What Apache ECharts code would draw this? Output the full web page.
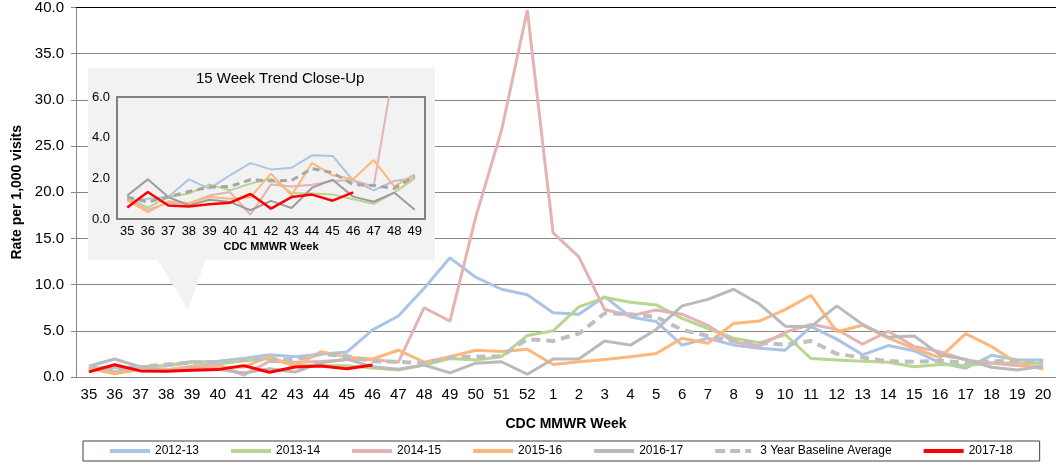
<!DOCTYPE html>
<html>
<head>
<meta charset="utf-8">
<script src="https://cdn.jsdelivr.net/npm/echarts@6/dist/echarts.min.js"></script>
<style>
  html, body { margin: 0; padding: 0; background: #fff; }
  #chart { width: 1056px; height: 465px; }
</style>
</head>
<body>
<div id="chart"></div>
<script>
// weeks 35..52 then 1..20
const weeks = ['35','36','37','38','39','40','41','42','43','44','45','46','47','48','49','50','51','52',
  '1','2','3','4','5','6','7','8','9','10','11','12','13','14','15','16','17','18','19','20'];
const insetWeeks = weeks.slice(0, 15);

const s2012_13 = [1.0, 1.0, 1.1, 1.2, 1.6, 1.7, 2.0, 2.4, 2.2, 2.45, 2.7, 5.1, 6.6, 9.6, 12.9, 10.8, 9.5, 8.9,
  6.95, 6.8, 8.7, 6.5, 6.0, 3.45, 4.2, 3.45, 3.1, 2.9, 5.45, 4.1, 2.4, 3.4, 2.85, 1.55, 0.95, 2.35, 1.85, 1.85];
const s2013_14 = [1.08, 0.56, 1.08, 1.25, 1.69, 1.41, 1.74, 1.98, 1.28, 1.25, 1.21, 0.97, 0.75, 1.3, 2.0, 1.85, 2.2, 4.5,
  5.0, 7.6, 8.6, 8.1, 7.8, 6.35, 5.25, 4.2, 3.7, 4.6, 2.0, 1.85, 1.7, 1.6, 1.1, 1.35, 1.25, 1.55, 1.5, 1.5];
const s2014_15 = [1.0, 0.45, 0.8, 0.75, 1.16, 1.33, 0.21, 1.7, 1.6, 1.69, 1.87, 1.9, 1.6, 7.5, 6.05, 17.3, 26.7, 39.7,
  15.6, 13.0, 7.3, 6.6, 7.25, 6.8, 5.6, 3.8, 3.35, 4.85, 5.7, 5.15, 3.55, 4.95, 3.3, 2.75, 1.85, 1.5, 1.25, 1.05];
const s2015_16 = [0.92, 0.34, 0.87, 0.79, 1.08, 1.0, 1.08, 2.23, 1.16, 2.75, 2.15, 1.95, 2.9, 1.6, 2.2, 2.9, 2.75, 3.0,
  1.35, 1.65, 1.9, 2.2, 2.55, 4.2, 3.65, 5.8, 6.05, 7.3, 8.85, 4.9, 5.6, 4.2, 3.1, 2.1, 4.7, 3.3, 1.5, 0.85];
const s2016_17 = [1.16, 1.95, 1.08, 0.67, 0.95, 0.84, 0.43, 0.89, 0.54, 1.54, 1.93, 1.1, 0.85, 1.3, 0.45, 1.5, 1.65, 0.3,
  1.95, 1.95, 3.9, 3.45, 5.15, 7.7, 8.4, 9.5, 7.9, 5.5, 5.45, 7.7, 5.7, 4.3, 4.45, 2.4, 1.9, 1.05, 0.75, 1.2];
const baseline3yr = [1.08, 0.84, 1.08, 1.35, 1.57, 1.6, 1.93, 1.87, 1.9, 2.48, 2.28, 1.7, 1.65, 1.5, 2.1, 2.2, 2.25, 4.1,
  3.9, 4.7, 6.9, 6.8, 6.5, 5.1, 4.45, 3.9, 3.7, 3.5, 3.9, 2.5, 2.1, 1.7, 1.65, 1.75, 1.55, 1.7, 1.75, 1.6];
const s2017_18 = [0.56, 1.33, 0.66, 0.61, 0.72, 0.8, 1.23, 0.51, 1.08, 1.2, 0.9, 1.31];

// the close-up shows its own 2012-13 line
const inset2012_13 = [0.89, 1.0, 1.08, 1.95, 1.49, 2.15, 2.75, 2.44, 2.52, 3.13, 3.1, 1.9, 1.41, 1.87, 2.02];

const font = 'Liberation Sans, Arial, sans-serif';
const names = ['2012-13', '2013-14', '2014-15', '2015-16', '2016-17', '3 Year Baseline Average', '2017-18'];
const colors = ['#aac4e6', '#b8d68d', '#e5b3b3', '#fdb77a', '#bababa', '#bfbfbf', '#ff0000'];
const insetColors = ['#aac4e6', '#b8d68d', '#e5b3b3', '#fdb77a', '#9c9c9c', '#a6a6a6', '#ff0000'];
const mainData = [s2012_13, s2013_14, s2014_15, s2015_16, s2016_17, baseline3yr, s2017_18];
const insetData = [inset2012_13, s2013_14.slice(0, 15), s2014_15.slice(0, 15), s2015_16.slice(0, 15),
  s2016_17.slice(0, 15), baseline3yr.slice(0, 15), s2017_18];

const fmt = (v) => v.toFixed(1);

// legend icons: plain line, dashed line for the baseline
const solidIcon = 'path://M0,0H40V4H0Z';
const dashIcon = 'path://M0,0H10V4H0Z M15,0H25V4H15Z M30,0H36V4H30Z M40,0H40V4H40Z';

let series = [];
names.forEach((name, i) => {
  const dashed = name.startsWith('3 Year');
  const isRed = name === '2017-18';
  series.push({
    name: name,
    type: 'line',
    data: mainData[i],
    xAxisIndex: 0,
    yAxisIndex: 0,
    symbol: 'none',
    silent: true,
    z: isRed ? 3 : 2,
    lineStyle: { color: colors[i], width: dashed ? 4 : 3, type: dashed ? [9, 6] : 'solid' },
    itemStyle: { color: colors[i] }
  });
});
names.forEach((name, i) => {
  const dashed = name.startsWith('3 Year');
  const isRed = name === '2017-18';
  series.push({
    name: name,
    type: 'line',
    data: insetData[i],
    xAxisIndex: 1,
    yAxisIndex: 1,
    symbol: 'none',
    silent: true,
    z: isRed ? 9 : 8,
    lineStyle: { color: insetColors[i], width: dashed ? 3 : (isRed ? 2.5 : 2), type: dashed ? [7, 5] : 'solid' },
    itemStyle: { color: insetColors[i] }
  });
});

const chart = echarts.init(document.getElementById('chart'));
chart.setOption({
  animation: false,
  textStyle: { fontFamily: font },
  title: {
    text: '15 Week Trend Close-Up',
    left: 196,
    top: 71,
    padding: 0,
    z: 7,
    textStyle: { fontSize: 15, fontWeight: 'normal', color: '#000', fontFamily: font }
  },
  legend: {
    data: names.map((n) => ({ name: n, icon: n.startsWith('3 Year') ? dashIcon : solidIcon })),
    left: 83,
    top: 441,
    padding: [4, 27],
    itemWidth: 40,
    itemHeight: 14,
    itemGap: 32,
    borderColor: '#404040',
    borderWidth: 1,
    textStyle: { fontSize: 12, color: '#000', fontFamily: font }
  },
  graphic: [
    { type: 'rect', z: 5, silent: true, shape: { x: 88, y: 68, width: 347, height: 192 }, style: { fill: '#f2f2f2' } },
    { type: 'polygon', z: 5, silent: true, shape: { points: [[157, 259], [206, 259], [188, 310]] }, style: { fill: '#f2f2f2' } }
  ],
  grid: [
    { left: 76, top: 7, width: 984, height: 370 },
    { left: 117, top: 97, width: 308, height: 122, show: true, z: 6,
      backgroundColor: '#f2f2f2', borderColor: '#808080', borderWidth: 2 }
  ],
  xAxis: [
    {
      gridIndex: 0, type: 'category', data: weeks, boundaryGap: true,
      axisLine: { lineStyle: { color: '#868686' } },
      axisTick: { length: 5, lineStyle: { color: '#868686' } },
      axisLabel: { fontSize: 15, color: '#000', margin: 10, interval: 0 },
      name: 'CDC MMWR Week', nameLocation: 'middle', nameGap: 40,
      nameTextStyle: { fontSize: 14, fontWeight: 'bold', color: '#000' }
    },
    {
      gridIndex: 1, type: 'category', data: insetWeeks, boundaryGap: true, z: 7,
      axisLine: { lineStyle: { color: '#808080', width: 2 } },
      axisTick: { length: 3, lineStyle: { color: '#808080' } },
      axisLabel: { fontSize: 13, color: '#000', margin: 6, interval: 0 },
      name: 'CDC MMWR Week', nameLocation: 'middle', nameGap: 22,
      nameTextStyle: { fontSize: 11, fontWeight: 'bold', color: '#000' }
    },
    {
      // top border line of the main plot
      gridIndex: 0, type: 'category', data: weeks, position: 'top',
      axisLine: { lineStyle: { color: '#000' } },
      axisTick: { show: false }, axisLabel: { show: false }
    }
  ],
  yAxis: [
    {
      gridIndex: 0, type: 'value', min: 0, max: 40, interval: 5,
      axisLine: { show: true, lineStyle: { color: '#868686' } },
      axisTick: { show: true, length: 5, lineStyle: { color: '#868686' } },
      splitLine: { lineStyle: { color: '#868686' } },
      axisLabel: { fontSize: 15, color: '#000', margin: 12, formatter: fmt },
      name: 'Rate per 1,000 visits', nameLocation: 'middle', nameGap: 50,
      nameTextStyle: { fontSize: 14, fontWeight: 'bold', color: '#000' }
    },
    {
      gridIndex: 1, type: 'value', min: 0, max: 6, interval: 2, z: 7,
      axisLine: { show: true, lineStyle: { color: '#808080', width: 2 } },
      axisTick: { show: false },
      splitLine: { show: false },
      axisLabel: { fontSize: 13, color: '#000', margin: 7, formatter: fmt }
    }
  ],
  series: series
});
</script>
</body>
</html>
